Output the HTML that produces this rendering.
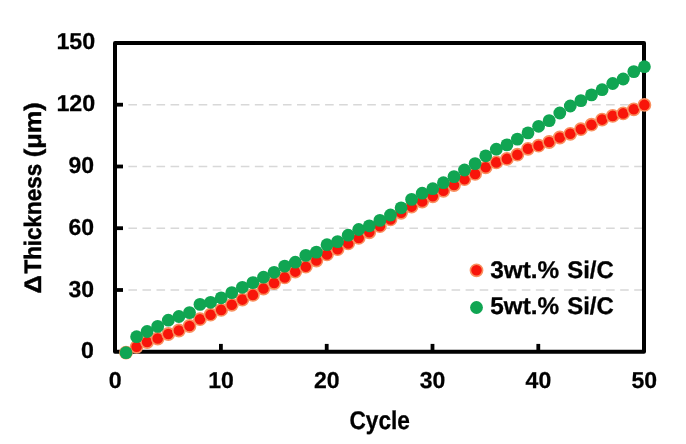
<!DOCTYPE html>
<html><head><meta charset="utf-8"><title>chart</title>
<style>
html,body{margin:0;padding:0;background:#fff;}
body{width:686px;height:444px;overflow:hidden;font-family:"Liberation Sans",sans-serif;}
svg{display:block;will-change:transform;opacity:0.999}
text{font-family:"Liberation Sans",sans-serif;font-weight:bold;fill:#000;text-rendering:geometricPrecision;}
</style></head><body>
<svg width="686" height="444" viewBox="0 0 686 444">
<rect x="0" y="0" width="686" height="444" fill="#ffffff"/>

<g stroke="#d8d8d8" stroke-width="1.4" stroke-dasharray="8.6 5.45" fill="none">
<line x1="128.4" y1="290.0" x2="642" y2="290.0"/>
<line x1="128.4" y1="228.2" x2="642" y2="228.2"/>
<line x1="128.4" y1="166.5" x2="642" y2="166.5"/>
<line x1="128.4" y1="104.7" x2="642" y2="104.7"/>
</g>
<rect x="115" y="43" width="529" height="308.7" fill="none" stroke="#000" stroke-width="4" stroke-linejoin="round"/>
<g stroke="#000" stroke-width="3.8" fill="none">
<line x1="115" y1="290.0" x2="123" y2="290.0"/>
<line x1="115" y1="228.2" x2="123" y2="228.2"/>
<line x1="115" y1="166.5" x2="123" y2="166.5"/>
<line x1="115" y1="104.7" x2="123" y2="104.7"/>
<line x1="220.9" y1="351.7" x2="220.9" y2="343.9"/>
<line x1="326.7" y1="351.7" x2="326.7" y2="343.9"/>
<line x1="432.5" y1="351.7" x2="432.5" y2="343.9"/>
<line x1="538.3" y1="351.7" x2="538.3" y2="343.9"/>
</g>
<g fill="#f8150a" stroke="#f9905f" stroke-width="1.6">
<circle cx="126.0" cy="352.7" r="6.1"/>
<circle cx="136.6" cy="346.8" r="6.1"/>
<circle cx="147.1" cy="342.0" r="6.1"/>
<circle cx="157.7" cy="338.5" r="6.1"/>
<circle cx="168.3" cy="334.0" r="6.1"/>
<circle cx="178.9" cy="330.5" r="6.1"/>
<circle cx="189.5" cy="326.0" r="6.1"/>
<circle cx="200.0" cy="319.2" r="6.1"/>
<circle cx="210.6" cy="314.7" r="6.1"/>
<circle cx="221.2" cy="309.9" r="6.1"/>
<circle cx="231.8" cy="304.8" r="6.1"/>
<circle cx="242.4" cy="299.6" r="6.1"/>
<circle cx="252.9" cy="294.9" r="6.1"/>
<circle cx="263.5" cy="288.5" r="6.1"/>
<circle cx="274.1" cy="283.0" r="6.1"/>
<circle cx="284.7" cy="277.4" r="6.1"/>
<circle cx="295.3" cy="271.6" r="6.1"/>
<circle cx="305.8" cy="266.7" r="6.1"/>
<circle cx="316.4" cy="260.5" r="6.1"/>
<circle cx="327.0" cy="254.4" r="6.1"/>
<circle cx="337.6" cy="249.2" r="6.1"/>
<circle cx="348.2" cy="243.4" r="6.1"/>
<circle cx="358.7" cy="237.9" r="6.1"/>
<circle cx="369.3" cy="232.3" r="6.1"/>
<circle cx="379.9" cy="226.2" r="6.1"/>
<circle cx="390.5" cy="219.4" r="6.1"/>
<circle cx="401.1" cy="212.8" r="6.1"/>
<circle cx="411.6" cy="206.6" r="6.1"/>
<circle cx="422.2" cy="201.5" r="6.1"/>
<circle cx="432.8" cy="196.3" r="6.1"/>
<circle cx="443.4" cy="190.8" r="6.1"/>
<circle cx="454.0" cy="185.0" r="6.1"/>
<circle cx="464.5" cy="179.2" r="6.1"/>
<circle cx="475.1" cy="173.9" r="6.1"/>
<circle cx="485.7" cy="167.3" r="6.1"/>
<circle cx="496.3" cy="162.4" r="6.1"/>
<circle cx="506.9" cy="158.9" r="6.1"/>
<circle cx="517.4" cy="154.7" r="6.1"/>
<circle cx="528.0" cy="148.8" r="6.1"/>
<circle cx="538.6" cy="145.7" r="6.1"/>
<circle cx="549.2" cy="142.0" r="6.1"/>
<circle cx="559.8" cy="137.5" r="6.1"/>
<circle cx="570.3" cy="133.8" r="6.1"/>
<circle cx="580.9" cy="129.2" r="6.1"/>
<circle cx="591.5" cy="124.7" r="6.1"/>
<circle cx="602.1" cy="119.6" r="6.1"/>
<circle cx="612.7" cy="115.9" r="6.1"/>
<circle cx="623.2" cy="113.4" r="6.1"/>
<circle cx="633.8" cy="109.3" r="6.1"/>
<circle cx="644.4" cy="104.9" r="6.1"/>
</g>
<g fill="#10a552">
<circle cx="126.0" cy="352.7" r="6.4"/>
<circle cx="136.6" cy="336.7" r="6.4"/>
<circle cx="147.1" cy="331.5" r="6.4"/>
<circle cx="157.7" cy="326.4" r="6.4"/>
<circle cx="168.3" cy="320.2" r="6.4"/>
<circle cx="178.9" cy="316.5" r="6.4"/>
<circle cx="189.5" cy="312.6" r="6.4"/>
<circle cx="200.0" cy="304.4" r="6.4"/>
<circle cx="210.6" cy="302.3" r="6.4"/>
<circle cx="221.2" cy="297.8" r="6.4"/>
<circle cx="231.8" cy="292.6" r="6.4"/>
<circle cx="242.4" cy="287.3" r="6.4"/>
<circle cx="252.9" cy="282.6" r="6.4"/>
<circle cx="263.5" cy="277.2" r="6.4"/>
<circle cx="274.1" cy="272.3" r="6.4"/>
<circle cx="284.7" cy="266.1" r="6.4"/>
<circle cx="295.3" cy="262.2" r="6.4"/>
<circle cx="305.8" cy="255.4" r="6.4"/>
<circle cx="316.4" cy="252.1" r="6.4"/>
<circle cx="327.0" cy="244.7" r="6.4"/>
<circle cx="337.6" cy="241.6" r="6.4"/>
<circle cx="348.2" cy="235.2" r="6.4"/>
<circle cx="358.7" cy="229.5" r="6.4"/>
<circle cx="369.3" cy="225.8" r="6.4"/>
<circle cx="379.9" cy="220.4" r="6.4"/>
<circle cx="390.5" cy="215.0" r="6.4"/>
<circle cx="401.1" cy="207.8" r="6.4"/>
<circle cx="411.6" cy="199.4" r="6.4"/>
<circle cx="422.2" cy="193.2" r="6.4"/>
<circle cx="432.8" cy="188.7" r="6.4"/>
<circle cx="443.4" cy="182.7" r="6.4"/>
<circle cx="454.0" cy="176.6" r="6.4"/>
<circle cx="464.5" cy="170.0" r="6.4"/>
<circle cx="475.1" cy="163.6" r="6.4"/>
<circle cx="485.7" cy="155.8" r="6.4"/>
<circle cx="496.3" cy="149.2" r="6.4"/>
<circle cx="506.9" cy="144.9" r="6.4"/>
<circle cx="517.4" cy="139.1" r="6.4"/>
<circle cx="528.0" cy="132.9" r="6.4"/>
<circle cx="538.6" cy="126.3" r="6.4"/>
<circle cx="549.2" cy="120.6" r="6.4"/>
<circle cx="559.8" cy="113.0" r="6.4"/>
<circle cx="570.3" cy="106.0" r="6.4"/>
<circle cx="580.9" cy="100.6" r="6.4"/>
<circle cx="591.5" cy="94.9" r="6.4"/>
<circle cx="602.1" cy="89.7" r="6.4"/>
<circle cx="612.7" cy="83.5" r="6.4"/>
<circle cx="623.2" cy="79.0" r="6.4"/>
<circle cx="633.8" cy="71.6" r="6.4"/>
<circle cx="644.4" cy="66.7" r="6.4"/>
</g>
<g font-size="23" text-anchor="end" stroke="#000" stroke-width="0.25">
<text x="94.0" y="357.7" textLength="12.9" lengthAdjust="spacingAndGlyphs">0</text>
<text x="94.0" y="296.9" textLength="25.6" lengthAdjust="spacingAndGlyphs">30</text>
<text x="94.0" y="235.1" textLength="25.6" lengthAdjust="spacingAndGlyphs">60</text>
<text x="94.0" y="172.9" textLength="25.6" lengthAdjust="spacingAndGlyphs">90</text>
<text x="95.3" y="110.9" textLength="38.9" lengthAdjust="spacingAndGlyphs">120</text>
<text x="95.3" y="48.8" textLength="38.9" lengthAdjust="spacingAndGlyphs">150</text>
</g>
<g font-size="23" text-anchor="middle" stroke="#000" stroke-width="0.25">
<text x="115.2" y="387.6" textLength="12.9" lengthAdjust="spacingAndGlyphs">0</text>
<text x="221.0" y="387.6" textLength="25.6" lengthAdjust="spacingAndGlyphs">10</text>
<text x="326.8" y="387.6" textLength="25.6" lengthAdjust="spacingAndGlyphs">20</text>
<text x="432.6" y="387.6" textLength="25.6" lengthAdjust="spacingAndGlyphs">30</text>
<text x="538.4" y="387.6" textLength="25.6" lengthAdjust="spacingAndGlyphs">40</text>
<text x="644.2" y="387.6" textLength="25.6" lengthAdjust="spacingAndGlyphs">50</text>
</g>
<text x="379.7" y="428.9" font-size="25.6" stroke="#000" stroke-width="0.3" text-anchor="middle" textLength="60.5" lengthAdjust="spacingAndGlyphs">Cycle</text>
<text transform="translate(41.2,293.5) rotate(-90)" font-size="23.8" stroke="#000" stroke-width="0.45" textLength="18.4" lengthAdjust="spacingAndGlyphs">Δ</text>
<text transform="translate(41.2,273.5) rotate(-90)" font-size="23.8" stroke="#000" stroke-width="0.45" textLength="109.6" lengthAdjust="spacingAndGlyphs">Thickness</text>
<text transform="translate(41.2,157.2) rotate(-90)" font-size="23.8" stroke="#000" stroke-width="0.45" textLength="55" lengthAdjust="spacingAndGlyphs">(μm)</text>
<circle cx="476.5" cy="270.3" r="6.1" fill="#f8150a" stroke="#f9905f" stroke-width="1.6"/>
<circle cx="476.5" cy="307.5" r="6.4" fill="#10a552"/>
<g font-size="24" stroke="#000" stroke-width="0.3">
<text x="490.2" y="277.7" textLength="69" lengthAdjust="spacingAndGlyphs">3wt.%</text>
<text x="567.2" y="277.7" textLength="46.6" lengthAdjust="spacingAndGlyphs">Si/C</text>
<text x="490.2" y="314.3" textLength="69" lengthAdjust="spacingAndGlyphs">5wt.%</text>
<text x="567.2" y="314.3" textLength="46.6" lengthAdjust="spacingAndGlyphs">Si/C</text>
</g>
</svg></body></html>
